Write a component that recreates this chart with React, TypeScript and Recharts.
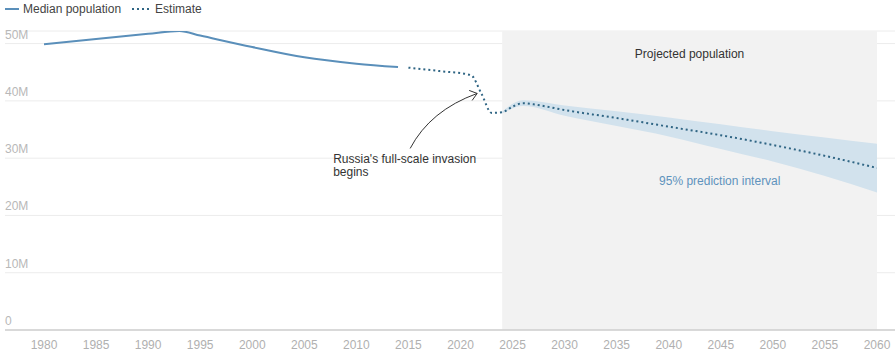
import React from 'react';
import {
  ComposedChart,
  Line,
  Area,
  XAxis,
  YAxis,
  CartesianGrid,
  ReferenceArea,
  ReferenceDot,
} from 'recharts';

// values in millions
const medianYears = [1980, 1985, 1990, 1993, 1995, 2000, 2005, 2010, 2014];
const medianValues = [49.9, 50.8, 51.7, 52.2, 51.4, 49.4, 47.6, 46.5, 45.9];

const estimateYears = [2015, 2018, 2021, 2022, 2023, 2024, 2025, 2026, 2027, 2030, 2035, 2040, 2045, 2050, 2055, 2060];
const estimateValues = [45.8, 45.2, 44.5, 41.3, 37.9, 38.0, 39.0, 39.6, 39.4, 38.4, 37.0, 35.5, 34.0, 32.3, 30.4, 28.3];

const bandYears = [2024, 2026, 2030, 2035, 2040, 2045, 2050, 2055, 2060];
const bandLow = [37.8, 39.1, 37.4, 35.6, 33.8, 31.6, 29.4, 26.9, 24.0];
const bandHigh = [38.1, 40.1, 39.2, 38.2, 37.1, 35.9, 34.7, 33.6, 32.5];

const xTicks = [1980, 1985, 1990, 1995, 2000, 2005, 2010, 2015, 2020, 2025, 2030, 2035, 2040, 2045, 2050, 2055, 2060];
const yTicks = [0, 10, 20, 30, 40, 50];

const medianData = medianYears.map((year, i) => ({ year, value: medianValues[i] }));
const estimateData = estimateYears.map((year, i) => ({ year, value: estimateValues[i] }));
const bandData = bandYears.map((year, i) => ({ year, band: [bandLow[i], bandHigh[i]] }));

const FONT = '"Liberation Sans", Arial, sans-serif';
const MEDIAN_COLOR = '#5a8fba';
const ESTIMATE_COLOR = '#2f6584';
const WIDTH = 895;
const HEIGHT = 351;
const LEFT = 5;

const XTick = (props: any) => {
  const { x, y, payload } = props;
  return (
    <text x={x} y={y} dy={17} textAnchor="middle" fontSize={12} fill="#b0b0b0" fontFamily={FONT}>
      {payload.value}
    </text>
  );
};

const YTick = (props: any) => {
  const { y, payload } = props;
  return (
    <text x={LEFT} y={y} dy={-5} textAnchor="start" fontSize={12} fill="#b8b8b8" fontFamily={FONT}>
      {payload.value === 0 ? '0' : `${payload.value}M`}
    </text>
  );
};

const InvasionNote = (props: any) => {
  const { cx, cy } = props;
  if (cx == null || cy == null) return null;
  return (
    <g fontFamily={FONT}>
      <path
        d={`M${cx - 67},${cy + 55} Q${cx - 47},${cy + 17} ${cx},${cy}`}
        fill="none"
        stroke="#333"
        strokeWidth={1}
      />
      <path
        d={`M${cx - 8},${cy - 3} L${cx},${cy} L${cx - 5},${cy + 7}`}
        fill="none"
        stroke="#333"
        strokeWidth={1}
      />
      <text x={cx - 144} y={cy + 70} fontSize={12} fill="#333">
        Russia's full-scale invasion
      </text>
      <text x={cx - 144} y={cy + 83} fontSize={12} fill="#333">
        begins
      </text>
    </g>
  );
};

const IntervalLabel = (props: any) => {
  const { cx, cy } = props;
  if (cx == null || cy == null) return null;
  return (
    <text x={cx} y={cy} textAnchor="middle" fontSize={12} fill="#5f93bd" fontFamily={FONT}>
      95% prediction interval
    </text>
  );
};

const Legend = () => (
  <div
    style={{
      position: 'absolute',
      top: 2,
      left: 5,
      display: 'flex',
      alignItems: 'center',
      fontFamily: FONT,
      fontSize: 12,
      color: '#444',
    }}
  >
    <svg width={14} height={4} style={{ marginRight: 4 }}>
      <line x1={0} y1={2} x2={14} y2={2} stroke={MEDIAN_COLOR} strokeWidth={2} />
    </svg>
    <span style={{ marginRight: 10 }}>Median population</span>
    <svg width={20} height={4} style={{ marginRight: 4 }}>
      <line x1={1} y1={2} x2={20} y2={2} stroke={ESTIMATE_COLOR} strokeWidth={2} strokeDasharray="2 3" />
    </svg>
    <span>Estimate</span>
  </div>
);

export default function App() {
  return (
    <div style={{ position: 'relative', width: WIDTH, height: HEIGHT, background: '#fff' }}>
      <style>{`body { margin: 0; }`}</style>
      <ComposedChart width={WIDTH} height={HEIGHT} margin={{ top: 31, right: 0, bottom: 0, left: LEFT - 1 }}>
        <CartesianGrid vertical={false} stroke="#ececec" />
        <ReferenceArea x1={2024} x2={2060} fill="#f2f2f2" fillOpacity={1} stroke="none" ifOverflow="hidden"
          label={{ value: 'Projected population', position: 'insideTop', offset: 18, fill: '#333', fontSize: 12, fontFamily: FONT }}
        />
        <XAxis
          type="number"
          dataKey="year"
          domain={[1980, 2060]}
          ticks={xTicks}
          padding={{ left: 39, right: 18 }}
          height={21}
          tickSize={0}
          tickLine={false}
          axisLine={{ stroke: '#bdbdbd' }}
          tick={<XTick />}
          allowDataOverflow
        />
        <YAxis
          type="number"
          domain={[0, 52.2]}
          ticks={yTicks}
          width={1}
          tickLine={false}
          axisLine={false}
          tick={<YTick />}
          interval={0}
          allowDataOverflow
        />
        <Area
          data={bandData}
          dataKey="band"
          type="monotone"
          stroke="none"
          fill="#d2e2ed"
          fillOpacity={1}
          isAnimationActive={false}
          activeDot={false}
        />
        <Line
          data={medianData}
          dataKey="value"
          type="monotone"
          stroke={MEDIAN_COLOR}
          strokeWidth={2}
          dot={false}
          activeDot={false}
          isAnimationActive={false}
        />
        <Line
          data={estimateData}
          dataKey="value"
          type="monotone"
          stroke={ESTIMATE_COLOR}
          strokeWidth={2}
          strokeDasharray="2 3"
          dot={false}
          activeDot={false}
          isAnimationActive={false}
        />
        <ReferenceDot x={2021.6} y={41.3} shape={<InvasionNote />} ifOverflow="visible" />
        <ReferenceDot x={2044.9} y={25.3} shape={<IntervalLabel />} ifOverflow="visible" />
      </ComposedChart>
      <Legend />
    </div>
  );
}
